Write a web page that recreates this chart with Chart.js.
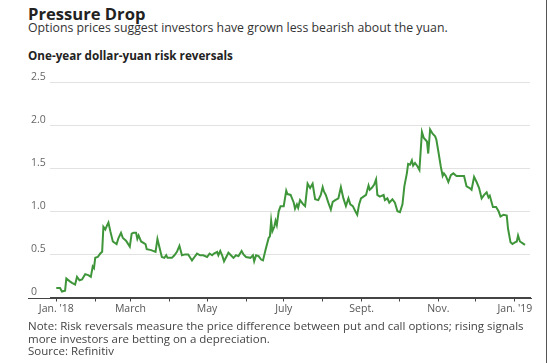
<!DOCTYPE html>
<html>
<head>
<meta charset="utf-8">
<script src="https://cdn.jsdelivr.net/npm/chart.js@4"></script>
<style>
  body { margin: 0; width: 549px; height: 363px; background: #fff; position: relative; overflow: hidden;
         font-family: "Open Sans", Lato, sans-serif; color: #222; }
  .t { position: absolute; left: 28px; white-space: nowrap; }
  #title { top: 4px; font-size: 16.6px; line-height: 19px; font-weight: bold; color: #222; }
  #sub { top: 21px; font-size: 12.3px; line-height: 14px; color: #333; }
  #head { top: 48px; font-size: 11.7px; line-height: 14px; font-weight: bold; color: #222; }
  #note { top: 320px; font-size: 11.5px; line-height: 12.7px; color: #444; }
  #wrap { position: absolute; left: 0; top: 70px; width: 549px; height: 250px; }
  #edge { position: absolute; left: 546px; top: 0; width: 1px; height: 363px; background: #555; }
</style>
</head>
<body>
<div class="t" id="title">Pressure Drop</div>
<div class="t" id="sub">Options prices suggest investors have grown less bearish about the yuan.</div>
<div class="t" id="head">One-year dollar-yuan risk reversals</div>
<div id="wrap"><canvas id="myChart" width="549" height="250"></canvas></div>
<div class="t" id="note">Note: Risk reversals measure the price difference between put and call options; rising signals<br>more investors are betting on a depreciation.<br>Source: Refinitiv</div>
<div id="edge"></div>
<script>
// days since Jan 1 2018
const days = [0, 3, 4.5, 7, 8, 10.5, 12.5, 15, 16.5, 18.5, 20.5, 23, 25.5, 27.5, 29, 30, 31, 33, 35, 36.5,
  37.5, 39, 40.5, 41.5, 43, 45, 48, 49.5, 51.5, 53, 55.5, 58.5, 60, 61.5, 63.5, 64.5, 65.5, 67.5, 71, 72,
  75.5, 79, 80.5, 82, 84, 86, 87.5, 88.5, 92, 94, 96, 98, 100, 102.5, 105, 108, 110, 112, 114.5, 117,
  120, 122, 124, 125.5, 128, 129, 130.5, 132, 133.5, 136, 137, 139, 141, 143, 145, 147.5, 149, 151, 154.5, 156.5,
  157.5, 159, 161, 163, 164.5, 166.5, 169, 170, 171, 172, 173.5, 174.5, 175.5, 177, 178.5, 181, 183, 184, 186.5, 189,
  190, 191.5, 192.5, 194, 196.5, 198, 200, 202, 204, 206, 208.5, 210.5, 212, 213, 214.5, 216.5, 218.5, 220, 222, 224.5,
  226.5, 228.5, 230.5, 232.5, 234, 236, 238, 239.5, 241, 242.5, 244.5, 246.5, 248.5, 249.5, 251, 253, 254.5, 255.5, 257.5, 260.5,
  261.5, 263.5, 265, 267.5, 269.5, 271.5, 273.5, 275.5, 277, 279, 280, 281.5, 283, 284, 285.5, 287.5, 289, 291, 292.5, 295,
  296, 297.5, 299.5, 301.5, 302.5, 304, 306, 307.5, 308.5, 310, 312, 314, 316, 318.5, 321.5, 324.5, 326.5, 329, 330.5, 332.5,
  334.5, 336.5, 338.5, 340.5, 342.5, 344, 345, 347.5, 350, 352, 353.5, 356, 358.5, 359.5, 361.5, 363, 365, 366.5, 367.5, 369,
  371, 373];
const values = [0.11, 0.11, 0.07, 0.08, 0.22, 0.19, 0.17, 0.15, 0.24, 0.2, 0.21, 0.27, 0.26, 0.24, 0.36, 0.34, 0.46, 0.47, 0.51, 0.53,
  0.82, 0.79, 0.84, 0.87, 0.77, 0.65, 0.62, 0.69, 0.75, 0.69, 0.66, 0.59, 0.74, 0.75, 0.75, 0.68, 0.72, 0.65, 0.62, 0.56,
  0.55, 0.53, 0.68, 0.59, 0.47, 0.46, 0.49, 0.46, 0.46, 0.49, 0.53, 0.6, 0.49, 0.5, 0.5, 0.43, 0.47, 0.51, 0.49, 0.49,
  0.47, 0.51, 0.49, 0.51, 0.53, 0.49, 0.54, 0.49, 0.42, 0.49, 0.52, 0.49, 0.46, 0.49, 0.48, 0.54, 0.5, 0.47, 0.46, 0.49,
  0.42, 0.49, 0.48, 0.44, 0.43, 0.55, 0.69, 0.71, 0.89, 0.77, 0.82, 0.89, 0.84, 1.0, 1.06, 1.06, 1.24, 1.2, 1.19, 1.1,
  1.03, 1.08, 1.04, 1.13, 1.08, 1.06, 1.32, 1.27, 1.32, 1.14, 1.13, 1.19, 1.28, 1.23, 1.19, 1.1, 1.02, 1.11, 1.13, 1.15,
  1.28, 1.15, 1.06, 1.15, 1.08, 1.06, 1.0, 0.96, 1.08, 1.15, 1.17, 1.19, 1.3, 1.25, 1.27, 1.31, 1.37, 1.19, 1.17, 1.19,
  1.13, 1.15, 1.1, 1.14, 1.1, 1.0, 0.99, 1.08, 1.29, 1.44, 1.55, 1.54, 1.59, 1.53, 1.56, 1.52, 1.48, 1.92, 1.85, 1.81,
  1.67, 1.95, 1.9, 1.87, 1.83, 1.7, 1.52, 1.41, 1.44, 1.41, 1.34, 1.42, 1.44, 1.41, 1.41, 1.41, 1.29, 1.27, 1.25, 1.4,
  1.34, 1.27, 1.15, 1.19, 1.22, 1.16, 1.18, 1.05, 1.05, 1.0, 0.94, 0.96, 0.95, 0.8, 0.64, 0.62, 0.64, 0.65, 0.72, 0.65,
  0.63, 0.61];
const monthDays = [0, 31, 59, 90, 120, 151, 181, 212, 243, 273, 304, 334, 365];
const monthLabels = ["Jan. '18", "", "March", "", "May", "", "July", "", "Sept.", "", "Nov.", "", "Jan. '19"];

const points = days.map((d, i) => ({ x: d, y: values[i] }));

// the zero line runs a little past the plot, under the "0" label
const axisLine = {
  id: 'axisLine',
  afterDraw(chart) {
    const a = chart.chartArea, c = chart.ctx;
    c.save();
    c.strokeStyle = '#444';
    c.lineWidth = 1;
    c.beginPath();
    c.moveTo(28, Math.round(a.bottom) + 0.5);
    c.lineTo(a.right + 2, Math.round(a.bottom) + 0.5);
    c.stroke();
    c.restore();
  }
};

var ctx = document.getElementById("myChart").getContext("2d");
var myChart = new Chart(ctx, {
  type: "line",
  data: {
    datasets: [{
      data: points,
      borderColor: "#3f963a",
      borderWidth: 2,
      pointRadius: 0,
      tension: 0,
      fill: false,
    }],
  },
  options: {
    responsive: false,
    animation: false,
    layout: { padding: { left: 31, right: 19, top: 12, bottom: 0 } },
    plugins: { legend: { display: false }, tooltip: { enabled: false } },
    scales: {
      x: {
        type: "linear",
        min: -5,
        max: 377,
        afterBuildTicks: (axis) => { axis.ticks = monthDays.map(v => ({ value: v })); },
        afterFit: (s) => { s.height = 22.5; },
        ticks: {
          autoSkip: false,
          maxRotation: 0,
          padding: 1,
          color: "#555",
          font: { family: "Open Sans", size: 10.5 },
          callback: (v, i) => monthLabels[i],
        },
        grid: { drawOnChartArea: false, drawTicks: true, tickLength: 4, color: "#444" },
        border: { display: true, color: "#444" },
      },
      y: {
        min: 0,
        max: 2.5,
        afterFit: (s) => { s.width = 19; },
        ticks: {
          stepSize: 0.5,
          crossAlign: "far",
          labelOffset: -5,
          padding: 0,
          color: "#666",
          font: { family: "Open Sans", size: 10.5 },
          callback: (v) => (v === 0 ? "0" : v.toFixed(1)),
        },
        grid: { color: "#e2e2e2", drawTicks: false },
        border: { display: false },
      },
    },
  },
  plugins: [axisLine],
});
</script>
</body>
</html>
